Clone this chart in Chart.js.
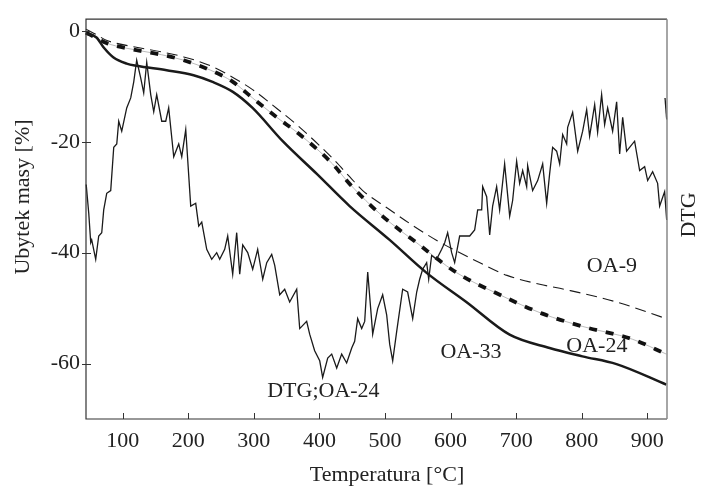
<!DOCTYPE html>
<html>
<head>
<meta charset="utf-8">
<script src="https://cdn.jsdelivr.net/npm/chart.js@4/dist/chart.umd.min.js"></script>
<style>
    html, body { margin: 0; padding: 0; background: #fff; }
    #wrap { width: 701px; height: 488px; }
</style>
</head>
<body>
<div id="wrap"><canvas id="tgChart" width="701" height="488"></canvas></div>
<script>
// Data (temperature in °C, mass loss in %)
const oa33Temp = [44, 60, 71, 86, 106, 121, 167, 208, 237, 268, 298, 344, 396, 446, 507, 563, 624, 690, 751, 801, 853, 929];
const oa33Mass = [-0.5, -1.2, -3.0, -4.8, -5.9, -6.3, -7.1, -8.0, -9.2, -11.0, -13.9, -19.9, -25.8, -31.6, -37.7, -43.6, -48.9, -54.8, -57.2, -58.7, -60.1, -63.8];

const oa24Temp = [44, 60, 75, 89, 127, 159, 193, 234, 268, 298, 335, 370, 420, 446, 496, 548, 609, 675, 740, 801, 877, 929];
const oa24Mass = [-0.3, -1.3, -2.2, -2.7, -3.6, -4.3, -5.3, -7.1, -9.2, -12.1, -15.6, -18.7, -24.0, -27.6, -33.4, -38.2, -43.6, -47.6, -51.0, -53.3, -55.6, -58.3];

const oa9Temp = [44, 60, 75, 89, 127, 159, 193, 234, 268, 298, 335, 370, 420, 446, 466, 504, 541, 579, 634, 686, 736, 777, 853, 929];
const oa9Mass = [0.3, -0.7, -1.7, -2.2, -3.1, -3.8, -4.7, -6.3, -8.4, -10.6, -14.0, -17.4, -23.0, -26.3, -28.8, -32.0, -35.0, -37.8, -41.2, -44.1, -45.7, -46.7, -48.9, -51.9];

const dtgTemp = [44.3, 48.2, 51.2, 52.7, 58.8, 63.4, 68.0, 71.0, 75.6, 81.7, 86.3, 90.9, 93.9, 98.5, 106.1, 112.2, 116.8, 121.3,
    127.4, 132.0, 136.6, 142.7, 147.3, 151.8, 159.5, 165.6, 170.1, 177.8, 185.4, 190.0, 196.1, 203.7, 211.3, 215.9, 220.5,
    228.1, 235.7, 243.3, 247.9, 255.5, 260.1, 267.7, 273.8, 278.4, 283.0, 290.6, 298.2, 305.8, 313.5, 319.6, 327.2, 331.8,
    339.4, 347.0, 354.6, 365.3, 369.9, 380.5, 385.1, 392.7, 400.4, 404.9, 412.6, 418.7, 426.3, 433.9, 441.5, 449.2, 453.7,
    458.3, 464.4, 469.0, 473.6, 479.7, 481.2, 488.8, 496.4, 502.5, 507.1, 511.7, 517.8, 526.9, 534.5, 542.2, 548.3, 552.8,
    557.4, 563.5, 566.6, 571.1, 578.7, 586.4, 591.0, 595.5, 601.6, 606.2, 613.8, 629.1, 636.7, 641.3, 647.4, 648.9, 655.0,
    659.6, 664.1, 670.2, 674.8, 682.4, 690.1, 694.6, 700.7, 705.3, 709.9, 716.0, 717.5, 725.1, 732.8, 740.4, 746.5, 751.0,
    755.6, 761.7, 766.3, 770.9, 777.0, 778.5, 786.1, 793.8, 801.4, 807.5, 812.0, 819.7, 824.2, 830.3, 834.9, 839.5, 847.1,
    853.2, 857.8, 862.4, 868.4, 873.0, 880.6, 888.3, 895.9, 900.5, 908.1, 915.7, 918.8, 926.4, 929.5];
const dtgVal = [-27.7, -32.9, -38.2, -37.7, -41.2, -37.0, -36.4, -32.3, -29.3, -28.8, -21.0, -20.4, -16.3, -18.1, -13.9, -12.1, -9.2, -5.3,
    -8.5, -11.2, -5.7, -11.5, -14.6, -11.5, -16.3, -16.3, -13.9, -22.7, -20.4, -22.7, -17.8, -31.6, -31.1, -35.2, -34.5,
    -39.4, -41.2, -40.0, -41.2, -39.4, -37.0, -43.9, -36.4, -43.9, -38.6, -40.0, -43.0, -39.4, -44.8, -41.8, -40.3, -42.3,
    -47.6, -46.6, -48.9, -46.6, -53.7, -52.4, -54.7, -57.7, -59.5, -62.5, -59.0, -58.3, -60.8, -58.3, -59.9, -57.2, -56.0,
    -51.9, -53.7, -52.4, -43.5, -52.4, -54.7, -50.1, -47.6, -51.2, -56.5, -59.5, -54.2, -46.6, -47.1, -51.9, -47.1, -44.8,
    -43.0, -41.8, -44.8, -40.5, -41.2, -39.4, -38.2, -36.4, -40.0, -41.8, -37.0, -37.0, -35.9, -32.3, -32.3, -28.1, -29.9,
    -36.8, -31.6, -28.1, -32.3, -24.0, -33.4, -30.6, -23.5, -27.5, -25.2, -28.1, -24.3, -28.8, -27.0, -24.0, -31.1, -25.8,
    -21.0, -21.7, -24.0, -18.7, -20.4, -17.4, -14.7, -21.7, -18.1, -14.2, -19.0, -13.3, -18.3, -11.5, -16.9, -13.9, -18.1,
    -12.8, -22.2, -15.6, -21.7, -21.0, -19.9, -25.2, -24.5, -27.0, -25.4, -27.5, -31.6, -29.0, -34.1];
// short piece of DTG coming back in at the right edge
const dtgTailTemp = [927, 929.5];
const dtgTailVal = [-12.1, -16.0];

const xTicks = [100, 200, 300, 400, 500, 600, 700, 800, 900];
const yTicks = [0, -20, -40, -60];

// curve labels (text, temperature, mass)
const curveLabels = [
    ['OA-9', 846, -42.5],
    ['OA-24', 823, -56.9],
    ['OA-33', 631, -57.9],
    ['DTG;OA-24', 406, -64.9]
];

const FONT = '"Liberation Serif", "DejaVu Serif", serif';

function pts(xs, ys) { return xs.map((x, i) => ({ x: x, y: ys[i] })); }

// frame, inner ticks, axis titles and curve labels
const decorPlugin = {
    id: 'decor',
    afterDraw(chart) {
        const ctx = chart.ctx;
        const a = chart.chartArea;
        const xs = chart.scales.x, ys = chart.scales.y;
        ctx.save();
        ctx.lineWidth = 1.2;
        ctx.strokeStyle = '#333';
        ctx.beginPath();
        ctx.moveTo(a.right, a.top); ctx.lineTo(a.left, a.top);
        ctx.lineTo(a.left, a.bottom); ctx.lineTo(a.right, a.bottom);
        ctx.stroke();
        ctx.strokeStyle = '#888';
        ctx.lineWidth = 1.5;
        ctx.beginPath(); ctx.moveTo(a.right, a.top); ctx.lineTo(a.right, a.bottom); ctx.stroke();

        ctx.strokeStyle = '#333';
        ctx.lineWidth = 1;
        xTicks.forEach(v => {
            const px = Math.round(xs.getPixelForValue(v)) + 0.5;
            ctx.beginPath(); ctx.moveTo(px, a.bottom); ctx.lineTo(px, a.bottom - 6); ctx.stroke();
        });
        yTicks.forEach(v => {
            const py = Math.round(ys.getPixelForValue(v)) + 0.5;
            ctx.beginPath(); ctx.moveTo(a.left - 4, py); ctx.lineTo(a.left + 5, py); ctx.stroke();
        });

        ctx.fillStyle = '#222';
        ctx.font = '22px ' + FONT;
        ctx.textAlign = 'center';
        ctx.textBaseline = 'middle';
        curveLabels.forEach(l => {
            ctx.fillText(l[0], xs.getPixelForValue(l[1]), ys.getPixelForValue(l[2]));
        });

        ctx.fillText('Temperatura [°C]', 387, 475);

        ctx.save();
        ctx.translate(23, 197);
        ctx.rotate(-Math.PI / 2);
        ctx.fillText('Ubytek masy [%]', 0, 0);
        ctx.restore();

        ctx.save();
        ctx.translate(689, 215);
        ctx.rotate(-Math.PI / 2);
        ctx.fillText('DTG', 0, 0);
        ctx.restore();
        ctx.restore();
    }
};

new Chart(document.getElementById('tgChart').getContext('2d'), {
    type: 'line',
    data: {
        datasets: [
            { label: 'DTG', data: pts(dtgTemp, dtgVal), borderColor: '#1a1a1a', borderWidth: 1.3, tension: 0 },
            { label: 'DTG tail', data: pts(dtgTailTemp, dtgTailVal), borderColor: '#1a1a1a', borderWidth: 1.3, tension: 0 },
            { label: 'OA-33', data: pts(oa33Temp, oa33Mass), borderColor: '#1a1a1a', borderWidth: 2.5, cubicInterpolationMode: 'monotone' },
            { label: 'OA-9', data: pts(oa9Temp, oa9Mass), borderColor: '#1a1a1a', borderWidth: 1.1, borderDash: [11, 6], cubicInterpolationMode: 'monotone' },
            { label: 'OA-24', data: pts(oa24Temp, oa24Mass), borderColor: '#111', borderWidth: 3.8, borderDash: [8, 9], borderCapStyle: 'butt', cubicInterpolationMode: 'monotone' },
            { label: 'OA-24 (thin)', data: pts(oa24Temp, oa24Mass), borderColor: '#aaa', borderWidth: 0.8, cubicInterpolationMode: 'monotone' }
        ]
    },
    options: {
        responsive: false,
        animation: false,
        events: [],
        clip: false,
        elements: { point: { radius: 0 } },
        layout: { padding: { left: 0, top: 13, right: 34, bottom: 0 } },
        plugins: { legend: { display: false }, tooltip: { enabled: false } },
        scales: {
            x: {
                type: 'linear', min: 44, max: 930,
                grid: { display: false, drawTicks: false },
                border: { display: false },
                afterFit: s => { s.height = 69; },
                afterBuildTicks: s => { s.ticks = xTicks.map(v => ({ value: v })); },
                ticks: { color: '#222', padding: 9, maxRotation: 0, font: { family: FONT, size: 22 } }
            },
            y: {
                min: -70, max: 2.1,
                grid: { display: false, drawTicks: false },
                border: { display: false },
                afterFit: s => { s.width = 86; },
                afterBuildTicks: s => { s.ticks = yTicks.map(v => ({ value: v })); },
                ticks: { color: '#222', padding: 6, font: { family: FONT, size: 22 } }
            }
        }
    },
    plugins: [decorPlugin]
});
</script>
</body>
</html>
